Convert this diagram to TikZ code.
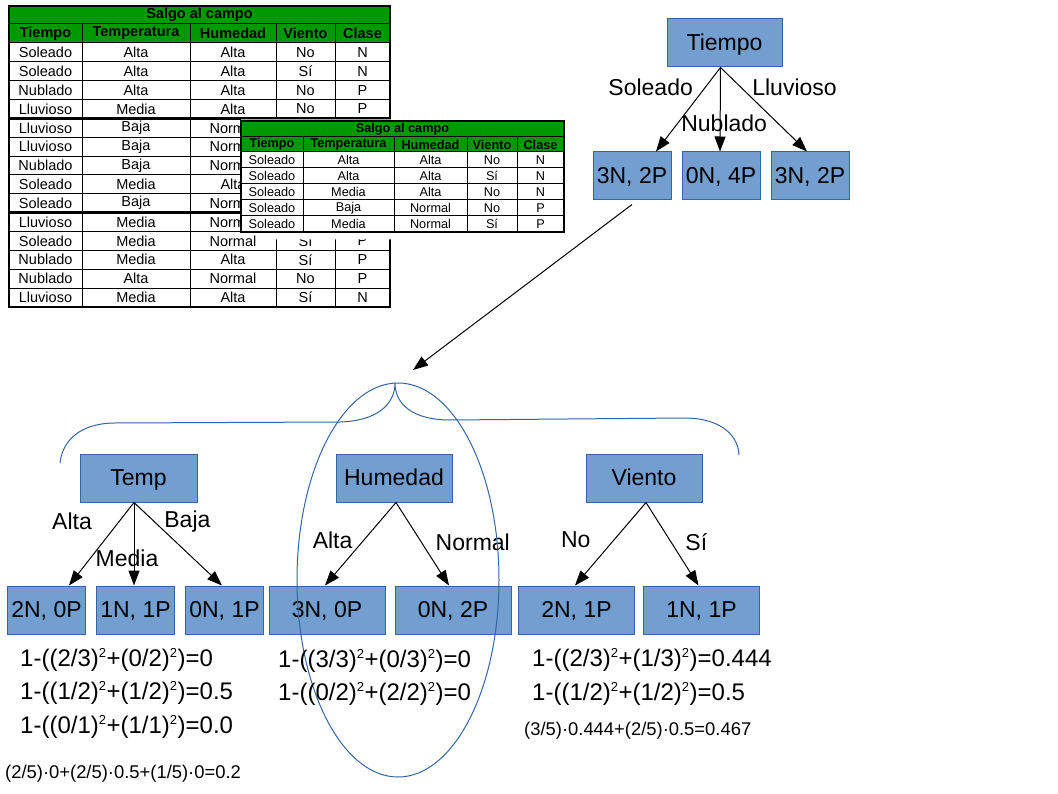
\documentclass[tikz,border=0pt]{standalone}
\usepackage{fontspec}
\setmainfont{Liberation Sans}
\usepackage{tikz}
\usetikzlibrary{positioning, arrows.meta}
\definecolor{boxfill}{HTML}{729FCF}
\definecolor{boxline}{HTML}{3465A4}
\definecolor{campo}{RGB}{0,153,0}
\newcommand{\sqr}{\textsuperscript{\fontsize{13}{13}\selectfont 2}}
\tikzset{
>={Triangle[length=15pt,width=11pt]}, % filled arrow heads
branch/.style={->, line width=1pt}, % arrows of the trees
box/.style={draw=boxline, line width=1pt, fill=boxfill, minimum height=48pt, inner sep=0pt, text height=16.5pt, text depth=2pt, font=\fontsize{23}{27}\selectfont}, % blue boxes of the trees
leaf/.style={box, minimum width=78pt}, % narrow result boxes
wideleaf/.style={box, minimum width=116pt}, % wide result boxes
lbl/.style={inner sep=0pt, font=\fontsize{23}{27}\selectfont}, % labels on the branches
gini/.style={anchor=west, inner sep=0pt, font=\fontsize{24}{28}\selectfont}, % impurity of one branch
smallgini/.style={gini, font=\fontsize{18.4}{22}\selectfont}, % weighted sum
cell/.style={inner sep=0pt, font=\fontsize{14.5}{17}\selectfont}, % big table
head/.style={cell, font=\fontsize{14.5}{17}\selectfont\bfseries},
scell/.style={inner sep=0pt, font=\fontsize{12.7}{15}\selectfont}, % small table
shead/.style={scell, font=\fontsize{12.7}{15}\selectfont\bfseries},
grid/.style={line width=1pt},
}
\begin{document}
\begin{tikzpicture}[x=1pt, y=-1pt]
  \useasboundingbox (0,0) rectangle (1058,794);

  % big table
  \fill[campo] (9,6) rectangle (390,43);
  \draw[grid] (9,24) -- (390,24) (9,43) -- (390,43);
  \foreach \y in {1,...,13} \draw[grid] (9,{43+18.85*\y}) -- (390,{43+18.85*\y});
  \foreach \x in {82,190,276,335} \draw[grid] (\x,24) -- (\x,306.9);
  \draw[line width=2.5pt] (9,{43+18.85*4}) -- (390,{43+18.85*4}) (9,{43+18.85*9}) -- (390,{43+18.85*9});
  \draw[line width=2pt] (9,6) rectangle (390,306.9);
  \node[head] (bigtitle) at (199.5,15) {Salgo al campo};
  \foreach \h/\x [count=\c] in {Tiempo/45.5, Temperatura/136, Humedad/233, Viento/305.5, Clase/362.5}
    \node[head] (big-h\c) at (\x,33.5) {\h};
  \foreach \r/\ti/\te/\hu/\vi/\cl in {1/Soleado/Alta/Alta/No/N, 2/Soleado/Alta/Alta/Sí/N, 3/Nublado/Alta/Alta/No/P,
      4/Lluvioso/Media/Alta/No/P, 11/Soleado/Media/Normal/Sí/P, 12/Nublado/Media/Alta/Sí/P,
      13/Nublado/Alta/Normal/No/P, 14/Lluvioso/Media/Alta/Sí/N} {
    \node[cell] (big-\r-1) at (45.5,{33.6+18.85*\r}) {\ti};
    \node[cell] (big-\r-2) at (136,{33.6+18.85*\r}) {\te};
    \node[cell] (big-\r-3) at (233,{33.6+18.85*\r}) {\hu};
    \node[cell] (big-\r-4) at (305.5,{33.6+18.85*\r}) {\vi};
    \node[cell] (big-\r-5) at (362.5,{33.6+18.85*\r}) {\cl};
  }
  % rows half hidden by the small table
  \foreach \r/\ti/\te/\hu in {5/Lluvioso/Baja/Normal, 6/Lluvioso/Baja/Normal, 7/Nublado/Baja/Normal,
      8/Soleado/Media/Alta, 9/Soleado/Baja/Normal, 10/Lluvioso/Media/Normal} {
    \node[cell] (big-\r-1) at (45.5,{33.6+18.85*\r}) {\ti};
    \node[cell] (big-\r-2) at (136,{33.6+18.85*\r}) {\te};
    \begin{scope}
      \clip (190,100) rectangle (241,240);
      \node[cell] (big-\r-3) at (233,{33.6+18.85*\r}) {\hu};
    \end{scope}
  }

  % small table, pasted over the big one
  \fill[white] (241,119.5) rectangle (566,232) (257,232) rectangle (566,239.5);
  \fill[campo] (241,121) rectangle (564,152);
  \draw[grid] (241,137) -- (564,137);
  \foreach \y in {152,168,184,200,216} \draw[grid] (241,\y) -- (564,\y);
  \foreach \x in {303,394,467,517} \draw[grid] (\x,137) -- (\x,232);
  \draw[line width=1.5pt] (241,121) rectangle (564,232);
  \node[shead] (smalltitle) at (402.5,129) {Salgo al campo};
  \foreach \h/\x [count=\c] in {Tiempo/272, Temperatura/348.5, Humedad/430.5, Viento/492, Clase/540.5}
    \node[shead] (small-h\c) at (\x,144.5) {\h};
  \foreach \ti/\te/\hu/\vi/\cl [count=\r] in {Soleado/Alta/Alta/No/N, Soleado/Alta/Alta/Sí/N, Soleado/Media/Alta/No/N,
      Soleado/Baja/Normal/No/P, Soleado/Media/Normal/Sí/P} {
    \node[scell] (small-\r-1) at (272,{144+16*\r}) {\ti};
    \node[scell] (small-\r-2) at (348.5,{144+16*\r}) {\te};
    \node[scell] (small-\r-3) at (430.5,{144+16*\r}) {\hu};
    \node[scell] (small-\r-4) at (492,{144+16*\r}) {\vi};
    \node[scell] (small-\r-5) at (540.5,{144+16*\r}) {\cl};
  }

  % first split
  \node[box, minimum width=115pt] (tiempo) at (724.5,43) {Tiempo};
  \node[leaf] (s2) at (721,176) {0N, 4P};
  \node[leaf, left=10pt of s2] (s1) {3N, 2P};
  \node[leaf, right=10pt of s2] (s3) {3N, 2P};
  \draw
    ([xshift=-4pt]tiempo.south) edge[branch] node[lbl, pos=.235, left=12pt] {Soleado} ([xshift=24pt]s1.north)
    ([xshift=-4pt]tiempo.south) edge[branch] node[lbl, pos=.67, xshift=4pt] {Nublado} ([xshift=-1pt]s2.north)
    ([xshift=-4pt]tiempo.south) edge[branch] node[lbl, pos=.235, right=11pt] {Lluvioso} ([xshift=-3pt]s3.north);

  % candidate splits of the Soleado branch
  \node[box, minimum width=117pt] (temp) at (138.5,478) {Temp};
  \node[leaf] (t2) at (135.5,610) {1N, 1P};
  \node[leaf, left=10pt of t2] (t1) {2N, 0P};
  \node[leaf, right=10pt of t2] (t3) {0N, 1P};
  \draw
    ([xshift=-4.5pt]temp.south) edge[branch] node[lbl, pos=.226, left=27pt] {Alta} ([xshift=-17pt]t1.north east)
    ([xshift=-4.5pt]temp.south) edge[branch] node[lbl, pos=.667, xshift=-7pt] {Media} ([xshift=-1.5pt]t2.north)
    ([xshift=-4.5pt]temp.south) edge[branch] node[lbl, pos=.226, right=10pt] {Baja} ([xshift=-2.5pt]t3.north);

  \node[box, minimum width=116pt] (hum) at (394,478) {Humedad};
  \node[wideleaf] (h1) at (327,610) {3N, 0P};
  \node[wideleaf, right=9pt of h1] (h2) {0N, 2P};
  \draw
    ([xshift=2pt]hum.south) edge[branch] node[lbl, pos=.452, left=11pt] {Alta} ([xshift=-2pt]h1.north)
    ([xshift=2pt]hum.south) edge[branch] node[lbl, pos=.476, right=14pt] {Normal} ([xshift=-4pt]h2.north);

  \node[box, minimum width=116pt] (vie) at (644,478) {Viento};
  \node[wideleaf] (v1) at (576.5,610) {2N, 1P};
  \node[wideleaf, right=8pt of v1] (v2) {1N, 1P};
  \draw
    ([xshift=2pt]vie.south) edge[branch] node[lbl, pos=.452, left=23pt] {No} ([xshift=-1.5pt]v1.north)
    ([xshift=2pt]vie.south) edge[branch] node[lbl, pos=.476, right=14pt] {Sí} ([xshift=-3pt]v2.north);

  % brace over the three candidates, best one circled
  \coordinate (tip) at (395,383);
  \draw[boxline, line width=1pt] (60,463) .. controls (63,436) and (86,423) .. (115,423) -- (340,422)
    .. controls (376,421) and (395,405) .. (tip) .. controls (395,405) and (414,420) .. (450,420) -- (685,418)
    .. controls (716,418) and (738,432) .. (739,455);
  \draw[boxline, line width=1pt] (398,580) ellipse [x radius=101, y radius=197];
  \draw[branch] ([yshift=-4pt]s1.south) -- ([xshift=18pt,yshift=13pt]tip);

  % gini of each candidate
  \node[gini] (gt1) at (20,660) {1-((2/3)\sqr+(0/2)\sqr)=0};
  \node[gini] (gt2) at (20,693) {1-((1/2)\sqr+(1/2)\sqr)=0.5};
  \node[gini] (gt3) at (20,727) {1-((0/1)\sqr+(1/1)\sqr)=0.0};
  \node[smallgini] (gt) at (5,774) {(2/5)·0+(2/5)·0.5+(1/5)·0=0.2};
  \node[gini] (gh1) at (278,661) {1-((3/3)\sqr+(0/3)\sqr)=0};
  \node[gini] (gh2) at (278,694) {1-((0/2)\sqr+(2/2)\sqr)=0};
  \node[gini] (gv1) at (532,660) {1-((2/3)\sqr+(1/3)\sqr)=0.444};
  \node[gini] (gv2) at (532,694) {1-((1/2)\sqr+(1/2)\sqr)=0.5};
  \node[smallgini] (gv) at (524,731) {(3/5)·0.444+(2/5)·0.5=0.467};
\end{tikzpicture}
\end{document}
